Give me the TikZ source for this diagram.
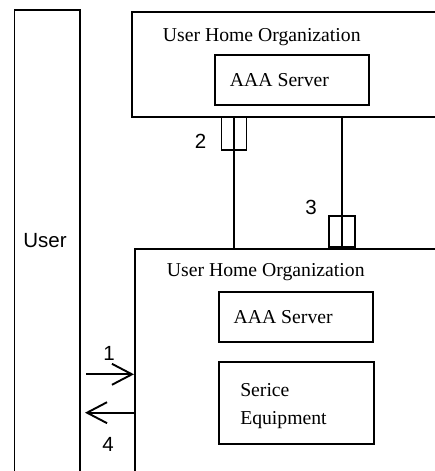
\documentclass[tikz,border=0pt]{standalone}
\usepackage{fontspec}
\setmainfont{Liberation Serif}
\newfontfamily\labelfont{Liberation Sans}
\usetikzlibrary{arrows.meta}
\begin{document}
\begin{tikzpicture}[x=1pt,y=-1pt,line width=1.9pt,
  box/.style={draw,rectangle,inner sep=0pt,anchor=north west},
  txt/.style={inner sep=0pt,font=\fontsize{19.7}{28}\selectfont},
  num/.style={inner sep=0pt,font=\labelfont\fontsize{20.5}{24}\selectfont},
  msg/.style={-{Straight Barb[length=20pt,width=21pt,line width=1.9pt]}}]
\path[use as bounding box,clip] (0,0) rectangle (435,471);
% user
\node[box,minimum width=65.5pt,minimum height=480pt] (user) at (13.5,9) {};
\node[num,anchor=base] (userlbl) at (45,247.7) {User};
% top organisation
\node[box,minimum width=330pt,minimum height=105pt] (org1) at (131,11) {};
\node[txt,anchor=base west] (org1lbl) at (162,41.7) {User Home Organization};
\node[box,minimum width=154pt,minimum height=50pt] (aaa1) at (214,54) {};
\node[txt,anchor=base west] (aaa1lbl) at (229,86) {AAA Server};
% bottom organisation
\node[box,minimum width=320pt,minimum height=240pt] (org2) at (134,248) {};
\node[txt,anchor=base west] (org2lbl) at (166,276.7) {User Home Organization};
\node[box,minimum width=154pt,minimum height=50pt] (aaa2) at (218,291) {};
\node[txt,anchor=base west] (aaa2lbl) at (232.7,323.3) {AAA Server};
\node[box,minimum width=155pt,minimum height=82pt] (se) at (218,361) {};
\node[txt,anchor=base west] (se1) at (239.3,396) {Serice};
\node[txt,anchor=base west] (se2) at (239.3,424) {Equipment};
% interfaces
\coordinate (c2t) at (234,116);
\coordinate (c2b) at (234,248);
\coordinate (c3t) at (342,116);
\coordinate (c3b) at (342,248);
\draw (c2t) -- (c2b);
\draw (c3t) -- (c3b);
\node[box,minimum width=25pt,minimum height=33pt,anchor=north] (if2) at (c2t) {};
\node[box,minimum width=26pt,minimum height=31pt,anchor=south] (if3) at (c3b) {};
\node[num,anchor=base] (n2) at (200.5,148) {2};
\node[num,anchor=base] (n3) at (311,214) {3};
% messages
\coordinate (a1s) at (86,374.3);
\coordinate (a4e) at (85,412.7);
\draw[msg] (a1s) -- (a1s -| org2.west);
\draw[msg] (a4e -| org2.west) -- (a4e);
\node[num,anchor=base] (n1) at (109,360) {1};
\node[num,anchor=base] (n4) at (108,451) {4};
\end{tikzpicture}
\end{document}
